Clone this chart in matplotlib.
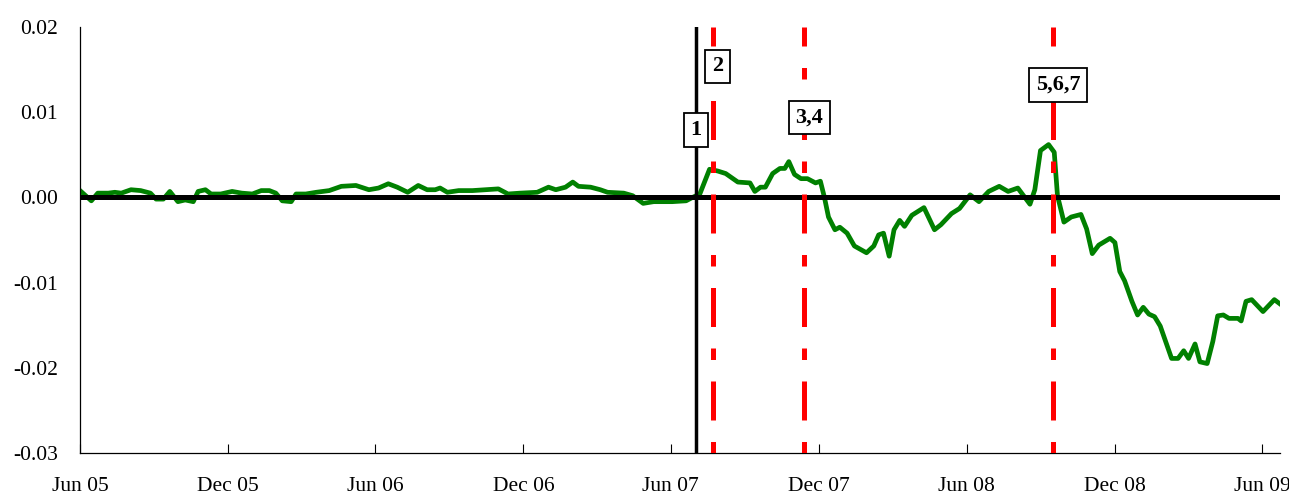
"""
Serie semanal con lineas de eventos (jun 2005 - jun 2009).
Salida: out.png
"""

import matplotlib
matplotlib.use("Agg")
import matplotlib.pyplot as plt
import matplotlib.dates as mdates
import pandas as pd

FECHAS = [
    "2005-06-01", "2005-06-15", "2005-06-23", "2005-07-06", "2005-07-14", "2005-07-22",
    "2005-08-03", "2005-08-15", "2005-08-27", "2005-09-03", "2005-09-12", "2005-09-20",
    "2005-09-30", "2005-10-09", "2005-10-19", "2005-10-25", "2005-11-03", "2005-11-10",
    "2005-11-22", "2005-12-06", "2005-12-18", "2005-12-31", "2006-01-11", "2006-01-21",
    "2006-01-29", "2006-02-06", "2006-02-17", "2006-02-23", "2006-03-07", "2006-03-20",
    "2006-04-05", "2006-04-20", "2006-05-08", "2006-05-24", "2006-06-05", "2006-06-17",
    "2006-06-28", "2006-07-11", "2006-07-24", "2006-08-04", "2006-08-14", "2006-08-20",
    "2006-08-29", "2006-09-12", "2006-09-29", "2006-10-15", "2006-10-31", "2006-11-12",
    "2006-11-27", "2006-12-18", "2007-01-01", "2007-01-10", "2007-01-22", "2007-01-31",
    "2007-02-07", "2007-02-22", "2007-03-06", "2007-03-15", "2007-04-04", "2007-04-15",
    "2007-04-28", "2007-05-11", "2007-06-03", "2007-06-20", "2007-06-28", "2007-07-07",
    "2007-07-19", "2007-07-29", "2007-08-08", "2007-08-23", "2007-09-07", "2007-09-13",
    "2007-09-20", "2007-09-26", "2007-10-05", "2007-10-14", "2007-10-20", "2007-10-25",
    "2007-11-01", "2007-11-09", "2007-11-17", "2007-11-27", "2007-12-03", "2007-12-08",
    "2007-12-13", "2007-12-21", "2007-12-27", "2008-01-05", "2008-01-14", "2008-01-29",
    "2008-02-07", "2008-02-13", "2008-02-19", "2008-02-26", "2008-03-03", "2008-03-10",
    "2008-03-16", "2008-03-25", "2008-04-09", "2008-04-22", "2008-04-30", "2008-05-13",
    "2008-05-23", "2008-06-05", "2008-06-16", "2008-06-28", "2008-07-11", "2008-07-22",
    "2008-08-03", "2008-08-18", "2008-08-24", "2008-08-31", "2008-09-10", "2008-09-17",
    "2008-09-21", "2008-09-29", "2008-10-08", "2008-10-20", "2008-10-27", "2008-11-03",
    "2008-11-11", "2008-11-25", "2008-12-01", "2008-12-07", "2008-12-13", "2008-12-22",
    "2008-12-29", "2009-01-05", "2009-01-12", "2009-01-19", "2009-01-26", "2009-02-09",
    "2009-02-17", "2009-02-24", "2009-03-02", "2009-03-10", "2009-03-16", "2009-03-25",
    "2009-04-01", "2009-04-07", "2009-04-14", "2009-04-21", "2009-05-02", "2009-05-06",
    "2009-05-12", "2009-05-19", "2009-06-02", "2009-06-16", "2009-06-23",
]
VALORES = [
    0.0008, -0.0004, 0.0005, 0.0005, 0.0006, 0.0005,
    0.0009, 0.0008, 0.0005, -0.0002, -0.0002, 0.0007,
    -0.0005, -0.0003, -0.0005, 0.0007, 0.0009, 0.0004,
    0.0004, 0.0007, 0.0005, 0.0004, 0.0008, 0.0008,
    0.0005, -0.0004, -0.0005, 0.0004, 0.0004, 0.0006,
    0.0008, 0.0013, 0.0014, 0.0009, 0.0011, 0.0016,
    0.0012, 0.0006, 0.0014, 0.0009, 0.0009, 0.0011,
    0.0006, 0.0008, 0.0008, 0.0009, 0.0010, 0.0004,
    0.0005, 0.0006, 0.0012, 0.0009, 0.0012, 0.0018,
    0.0013, 0.0012, 0.0009, 0.0006, 0.0005, 0.0002,
    -0.0007, -0.0005, -0.0005, -0.0004, 0.0000, 0.0004,
    0.0033, 0.0031, 0.0028, 0.0018, 0.0017, 0.0007,
    0.0012, 0.0012, 0.0028, 0.0034, 0.0034, 0.0042,
    0.0027, 0.0022, 0.0022, 0.0017, 0.0019, 0.0000,
    -0.0023, -0.0038, -0.0035, -0.0042, -0.0057, -0.0065,
    -0.0057, -0.0044, -0.0042, -0.0069, -0.0038, -0.0027,
    -0.0034, -0.0021, -0.0012, -0.0038, -0.0032, -0.0019,
    -0.0013, 0.0003, -0.0005, 0.0007, 0.0013, 0.0007,
    0.0011, -0.0008, 0.0009, 0.0055, 0.0062, 0.0053,
    0.0002, -0.0029, -0.0023, -0.0020, -0.0037, -0.0066,
    -0.0056, -0.0048, -0.0053, -0.0087, -0.0098, -0.0122,
    -0.0138, -0.0129, -0.0137, -0.0140, -0.0151, -0.0189,
    -0.0189, -0.0180, -0.0189, -0.0172, -0.0193, -0.0195,
    -0.0169, -0.0139, -0.0138, -0.0142, -0.0142, -0.0145,
    -0.0122, -0.0120, -0.0134, -0.0120, -0.0125,
]

# eventos: linea negra (1) y lineas rojas (2, 3-4, 5-7)
EVENTO_NEGRO = "2007-07-02"
EVENTOS_ROJOS = ["2007-07-23", "2007-11-13", "2008-09-16"]
ETIQUETAS = ["1", "2", "3,4", "5,6,7"]
ETIQ_FECHAS = ["2007-07-02", "2007-07-29", "2007-11-19", "2008-09-22"]
ETIQ_Y = [0.0079, 0.0154, 0.0094, 0.0132]

X_INI, X_FIN = "2005-06-01", "2009-06-23"
TICKS = ["2005-06-01", "2005-12-01", "2006-06-01", "2006-12-01", "2007-06-01",
         "2007-12-01", "2008-06-01", "2008-12-01", "2009-06-01"]
Y_TICKS = [0.02, 0.01, 0.0, -0.01, -0.02, -0.03]


def main():
    plt.rcParams["font.family"] = ["Liberation Serif", "DejaVu Serif"]
    plt.rcParams["axes.unicode_minus"] = False

    fechas = pd.to_datetime(FECHAS)
    fig = plt.figure(figsize=(12.89, 4.96), dpi=100)
    ax = fig.add_axes([80 / 1289, 1 - 453 / 496, 1200 / 1289, 426 / 496])

    ax.plot(fechas, VALORES, color="#008000", lw=3.4, zorder=2, solid_joinstyle="round")
    ax.axhline(0, color="black", lw=3.6, zorder=3)
    ax.axvline(pd.Timestamp(EVENTO_NEGRO), color="black", lw=2.5, zorder=3)
    for f in EVENTOS_ROJOS:
        ax.plot([pd.Timestamp(f)] * 2, [-0.03, 0.02], color="red", lw=3.6,
                ls=(0, (2.3, 4.3, 7.8, 4.3)), zorder=4, dash_capstyle="butt")
    for t, f, y in zip(ETIQUETAS, ETIQ_FECHAS, ETIQ_Y):
        ax.text(pd.Timestamp(f), y, t, ha="center", va="center", fontsize=16,
                fontweight="bold", zorder=5,
                bbox=dict(boxstyle="square,pad=0.3", fc="white", ec="black", lw=1.3))

    ax.set_xlim(pd.Timestamp(X_INI), pd.Timestamp(X_FIN))
    ax.set_ylim(-0.03, 0.02)
    ax.set_xticks(pd.to_datetime(TICKS))
    ax.xaxis.set_major_formatter(mdates.DateFormatter("%b %y"))
    ax.set_yticks(Y_TICKS)
    ax.set_yticklabels([f"{v:.2f}" for v in Y_TICKS])
    ax.tick_params(axis="x", direction="in", length=6.5, width=0.8, pad=17, labelsize=15.5)
    ax.tick_params(axis="y", direction="in", length=0, pad=16, labelsize=15.5)
    for s in ("top", "right"):
        ax.spines[s].set_visible(False)
    for s in ("left", "bottom"):
        ax.spines[s].set_linewidth(0.9)

    fig.savefig("out.png", dpi=100)


if __name__ == "__main__":
    main()
